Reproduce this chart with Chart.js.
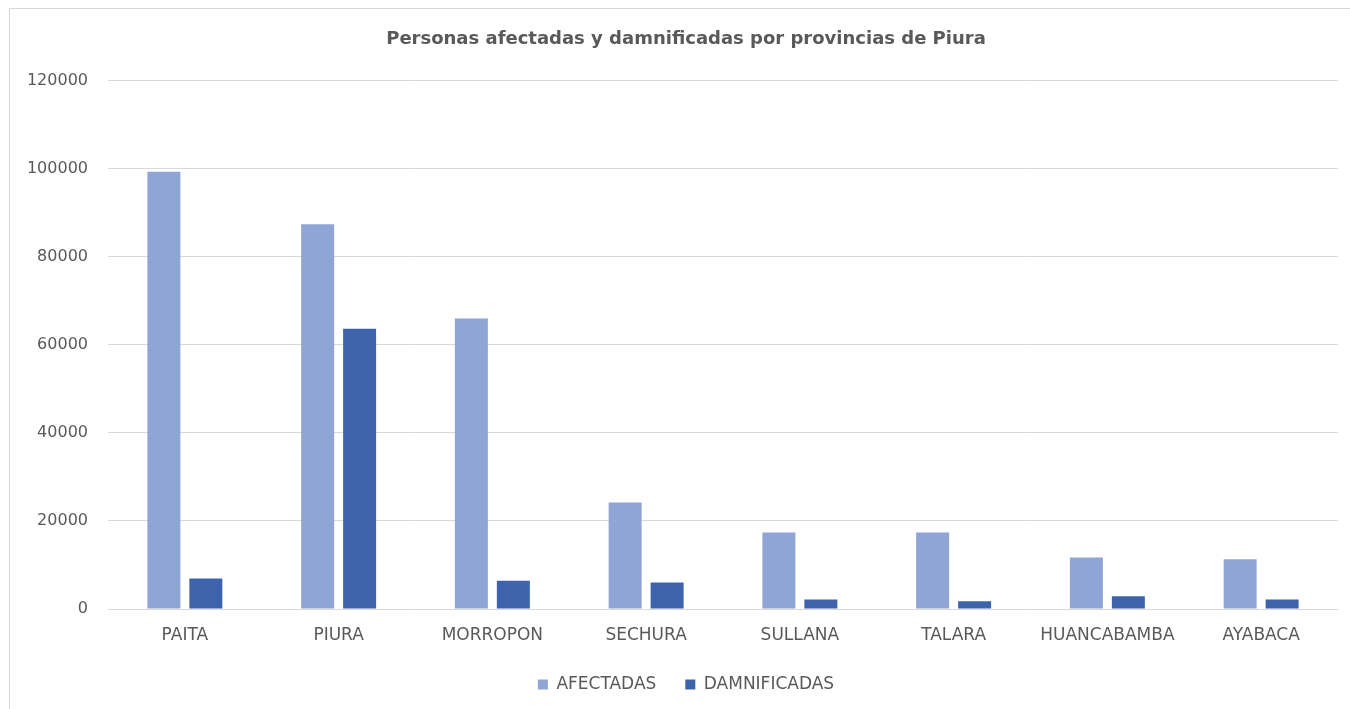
<!DOCTYPE html>
<html>
<head>
<meta charset="utf-8">
<title>Personas afectadas y damnificadas por provincias de Piura</title>
<script src="https://cdn.jsdelivr.net/npm/chart.js@4"></script>
<style>
  html, body { margin: 0; padding: 0; background: #fff; }
  #wrap { position: relative; width: 1350px; height: 709px; overflow: hidden; }
  #frame { position: absolute; left: 9px; top: 8px; width: 1360px; height: 720px;
           border: 1px solid #d9d9d9; box-sizing: border-box; }
  canvas { position: absolute; left: 0; top: 0; }
</style>
</head>
<body>
<div id="wrap">
  <div id="frame"></div>
  <canvas id="chart" width="1350" height="709"></canvas>
</div>
<script>
// data
const provincias = ["PAITA", "PIURA", "MORROPON", "SECHURA", "SULLANA", "TALARA", "HUANCABAMBA", "AYABACA"];
const afectadas = [99300, 87400, 66000, 24200, 17400, 17400, 11700, 11300];
const damnificadas = [6950, 63650, 6400, 6000, 2150, 1750, 2900, 2150];
const yTicks = [0, 20000, 40000, 60000, 80000, 100000, 120000];

const gray = "#595959";

// force the legend box height so labels sit where the reference has them
const legendFit = {
  id: "legendFit",
  beforeLayout(chart) {
    const lg = chart.legend;
    if (!lg || lg._patched) return;
    const fit = lg.fit;
    lg.fit = function () { fit.call(this); this.height = 62; };
    lg._patched = true;
  }
};

new Chart(document.getElementById("chart"), {
  type: "bar",
  data: {
    labels: provincias,
    datasets: [
      { label: "AFECTADAS", data: afectadas, backgroundColor: "#8FA5D5" },
      { label: "DAMNIFICADAS", data: damnificadas, backgroundColor: "#3C63AC" }
    ]
  },
  options: {
    responsive: false,
    animation: false,
    events: [],
    // left offset keeps title and legend centred where Excel put them
    layout: { padding: { left: 22, right: 0, top: 0, bottom: 0 } },
    datasets: { bar: { categoryPercentage: 0.546, barPercentage: 0.786 } },
    plugins: {
      title: {
        display: true,
        text: "Personas afectadas y damnificadas por provincias de Piura",
        color: gray,
        font: { family: "DejaVu Sans", size: 18, weight: "bold" },
        padding: { top: 29, bottom: 30 }
      },
      legend: {
        position: "bottom",
        labels: {
          color: gray,
          font: { family: "DejaVu Sans", size: 17 },
          boxWidth: 10,
          boxHeight: 10,
          padding: 29
        }
      },
      tooltip: { enabled: false }
    },
    scales: {
      x: {
        grid: { display: false, drawTicks: false },
        border: { display: false },
        ticks: { color: gray, font: { family: "DejaVu Sans", size: 17 }, padding: 16 },
        afterFit(s) { s.height = 38; }
      },
      y: {
        min: 0,
        max: 120000,
        afterBuildTicks(s) { s.ticks = yTicks.map(v => ({ value: v })); },
        grid: { color: "#d9d9d9", lineWidth: 1, drawTicks: false },
        border: { display: false },
        ticks: {
          color: gray,
          font: { family: "DejaVu Sans", size: 16 },
          padding: 20,
          callback: v => String(v)
        },
        afterFit(s) { s.width = 86; }
      },
      // empty right-hand spacer so the plot ends where the reference's does
      spacer: {
        axis: "y",
        position: "right",
        min: 0,
        max: 120000,
        grid: { display: false, drawTicks: false },
        border: { display: false },
        ticks: { display: false },
        afterFit(s) { s.width = 12; }
      }
    }
  },
  plugins: [legendFit]
});
</script>
</body>
</html>
